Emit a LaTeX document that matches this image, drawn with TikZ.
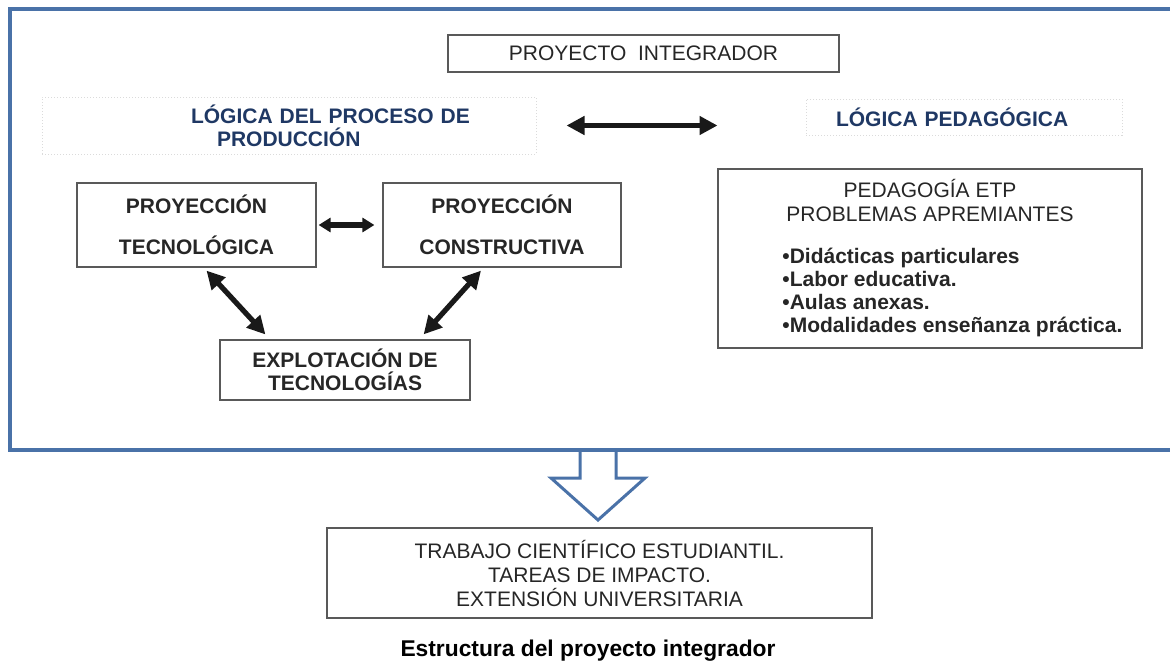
\documentclass[tikz,border=0pt]{standalone}
\usepackage{fontspec}
\setmainfont{Liberation Sans}
\usetikzlibrary{positioning,arrows.meta,calc}
\definecolor{frameblue}{RGB}{74,114,168}
\definecolor{titleblue}{RGB}{31,56,100}

\begin{document}
\begin{tikzpicture}[x=0.5pt, y=-0.5pt,
  box/.style={draw=black!65, line width=0.6pt, align=center, inner sep=2pt, text=black!85, font=\fontsize{10.5}{12}\selectfont},
  strong/.style={box, font=\fontsize{10.5}{11.5}\selectfont\bfseries},
  faint/.style={draw=black!14, densely dotted, line width=0.5pt, align=left, inner xsep=0pt, text=titleblue, font=\fontsize{10.5}{11.5}\selectfont\bfseries},
  plain text/.style={inner sep=0pt, text=black!85},
  link arrow/.style={{Triangle[length=9pt,width=9pt]}-{Triangle[length=9pt,width=9pt]}, line width=2.6pt, draw=black!90},
  short arrow/.style={{Triangle[length=6pt,width=7pt]}-{Triangle[length=6pt,width=7pt]}, line width=2.6pt, draw=black!90}
]
\useasboundingbox (0,0) rectangle (1170,664);

% block arrow out of the frame, then the frame itself
\draw[frameblue, line width=1.5pt, fill=white, line join=miter]
  (580,450) -- (580,478) -- (551,478) -- (598,520) -- (645,478) -- (616,478) -- (616,450);
\draw[frameblue, line width=2.2pt] (1175,9) -- (10,9) -- (10,450) -- (1175,450);

\node[box, minimum width=195.5pt, minimum height=18.5pt] (integ) at (643.5,53.5) {PROYECTO\ \ INTEGRADOR};

\node[faint, text width=247pt, minimum height=28.5pt] (prod) at (289,125.5)
  {\hspace*{74.5pt}LÓGICA DEL PROCESO DE\\\hspace*{87.5pt}PRODUCCIÓN};
\node[faint, text width=158pt, minimum height=18pt] (pedlog) at (964,117) {\hspace*{15pt}LÓGICA PEDAGÓGICA};
\draw[link arrow, shorten <=15pt, shorten >=44pt] (prod.east) -- (prod.east -| pedlog.west);

\node[strong, minimum width=119.5pt, minimum height=42pt] (tec) at (196.5,225) {PROYECCIÓN\\[9pt]TECNOLÓGICA};
\node[strong, minimum width=119pt, minimum height=42pt] (cons) at (502,225) {PROYECCIÓN\\[9pt]CONSTRUCTIVA};
\draw[short arrow, shorten <=1pt, shorten >=4pt] (tec) -- (cons);

\node[strong, minimum width=125pt, minimum height=30pt] (expl) at (345,370) {EXPLOTACIÓN DE\\TECNOLOGÍAS};
\draw[link arrow] ($(tec.south)+(5pt,-1.5pt)$) -- ($(expl.north west)+(23pt,2.5pt)$);
\draw[link arrow] ($(cons.south)+(-10.5pt,-1.5pt)$) -- ($(expl.north east)+(-23.5pt,2.5pt)$);

\node[box, minimum width=212pt, minimum height=89.5pt] (ped) at (930,258.5) {};
\node[plain text, align=center, font=\fontsize{10.5}{12}\selectfont] (ped title) at (930,200)
  {PEDAGOGÍA ETP\\PROBLEMAS APREMIANTES};
\node[plain text, align=left, anchor=west, font=\fontsize{10.5}{11.5}\selectfont\bfseries] (ped list) at (782,292.5)
  {•Didácticas particulares\\•Labor educativa.\\•Aulas anexas.\\•Modalidades enseñanza práctica.};

\node[box, minimum width=272.5pt, minimum height=45pt] (outbox) at (599.5,573)
  {TRABAJO CIENTÍFICO ESTUDIANTIL.\\TAREAS DE IMPACTO.\\EXTENSIÓN UNIVERSITARIA};

\node[plain text, text=black, font=\fontsize{11.4}{13}\selectfont\bfseries] (caption) at (588,651) {Estructura del proyecto integrador};
\end{tikzpicture}
\end{document}
